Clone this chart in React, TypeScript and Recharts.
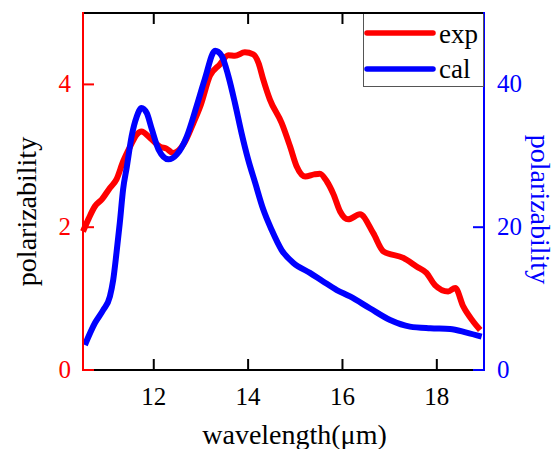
import React from 'react';
import { LineChart, Line, XAxis, YAxis } from 'recharts';

const expWavelength = [10.5, 10.62, 10.75, 10.9, 11.07, 11.21, 11.35, 11.5, 11.64, 11.74, 11.92, 12.13, 12.27, 12.41, 12.63, 12.84, 13.0, 13.19, 13.4, 13.58, 13.72, 13.93, 14.11, 14.22, 14.32, 14.46, 14.71, 14.89, 15.03, 15.21, 15.4, 15.52, 15.67, 15.81, 15.95, 16.12, 16.37, 16.65, 16.87, 17.29, 17.57, 17.78, 17.96, 18.24, 18.39, 18.56, 18.77, 18.92];
const expPolarizability = [1.94, 2.12, 2.29, 2.39, 2.55, 2.67, 2.92, 3.13, 3.3, 3.34, 3.25, 3.13, 3.1, 3.04, 3.16, 3.46, 3.72, 4.12, 4.28, 4.41, 4.4, 4.45, 4.42, 4.3, 4.07, 3.79, 3.46, 3.13, 2.85, 2.71, 2.74, 2.75, 2.64, 2.46, 2.22, 2.11, 2.18, 1.92, 1.66, 1.57, 1.45, 1.36, 1.19, 1.1, 1.15, 0.89, 0.68, 0.56];

const calWavelength = [10.54, 10.75, 10.93, 11.07, 11.14, 11.21, 11.28, 11.35, 11.43, 11.53, 11.64, 11.74, 11.85, 11.96, 12.1, 12.31, 12.49, 12.7, 12.91, 13.08, 13.3, 13.44, 13.58, 13.72, 13.86, 14.0, 14.15, 14.32, 14.5, 14.71, 14.96, 15.31, 15.59, 15.88, 16.16, 16.58, 17.01, 17.43, 17.86, 18.28, 18.63, 18.95];
const calPolarizability = [3.5, 6.55, 8.42, 10.3, 12.6, 16.4, 20.6, 25.3, 28.5, 32.7, 35.5, 36.7, 36.0, 33.7, 30.9, 29.5, 30.2, 32.7, 37.0, 40.7, 44.7, 44.0, 41.2, 37.4, 33.2, 29.5, 26.2, 22.5, 19.6, 16.8, 15.0, 13.6, 12.4, 11.2, 10.3, 8.65, 7.0, 6.08, 5.85, 5.75, 5.24, 4.68];

const xTicks = [12, 14, 16, 18];
const leftTicks = [0, 2, 4];
const rightTicks = [0, 20, 40];
const xDomain = [10.5, 19];
const leftDomain = [0, 5];
const rightDomain = [0, 50];
const seriesNames = ['exp', 'cal'];
const seriesColors = ['#ff0000', '#0000ff'];
const xTitle = 'wavelength(\u03bcm)';
const yTitle = 'polarizability';

const expData = expWavelength.map((x, i) => ({ x, v: expPolarizability[i] }));
const calData = calWavelength.map((x, i) => ({ x, v: calPolarizability[i] }));

const FONT = 'Liberation Serif';
const RED = seriesColors[0];
const BLUE = seriesColors[1];
const TL = 11;
const W = 556;
const H = 449;
const MARGIN_TOP = 13;
const LEFT_W = 83;
const RIGHT_W = 72;
const BOTTOM_H = 79;
const PL = LEFT_W;
const PR = W - RIGHT_W;
const PT = MARGIN_TOP;
const PB = H - BOTTOM_H;

const sx = (v: number) => PL + ((v - xDomain[0]) / (xDomain[1] - xDomain[0])) * (PR - PL);
const syL = (v: number) => PB - ((v - leftDomain[0]) / (leftDomain[1] - leftDomain[0])) * (PB - PT);
const syR = (v: number) => PB - ((v - rightDomain[0]) / (rightDomain[1] - rightDomain[0])) * (PB - PT);

const BottomTick = (props: any) => {
  const { x, y, payload } = props;
  return (
    <text x={x} y={y + 35} textAnchor="middle" fontSize={25} fontFamily={FONT} fill="#000">{payload.value}</text>
  );
};

const LeftTick = (props: any) => {
  const { x, y, payload } = props;
  return (
    <text x={x - 12} y={y + 8} textAnchor="end" fontSize={25} fontFamily={FONT} fill={RED}>{payload.value}</text>
  );
};

const RightTick = (props: any) => {
  const { x, y, payload } = props;
  return (
    <text x={x + 13} y={y + 8} textAnchor="start" fontSize={25} fontFamily={FONT} fill={BLUE}>{payload.value}</text>
  );
};

const LeftTitle = (props: any) => {
  const vb = props.viewBox || { x: 0, y: 13, width: 83, height: 357 };
  const cx = vb.x + 26;
  const cy = vb.y + vb.height / 2 + 20;
  return (
    <text x={cx} y={cy} transform={`rotate(-90 ${cx} ${cy})`} textAnchor="middle" dominantBaseline="central" fontSize={28} fontFamily={FONT} fill="#000">{yTitle}</text>
  );
};

const RightTitle = (props: any) => {
  const vb = props.viewBox || { x: 484, y: 13, width: 72, height: 357 };
  const cx = vb.x + 56;
  const cy = vb.y + vb.height / 2 + 18;
  return (
    <text x={cx} y={cy} transform={`rotate(90 ${cx} ${cy})`} textAnchor="middle" dominantBaseline="central" fontSize={28} fontFamily={FONT} fill={BLUE}>{yTitle}</text>
  );
};

const BottomTitle = (props: any) => {
  const vb = props.viewBox || { x: 83, y: 370, width: 401, height: 79 };
  const cx = vb.x + vb.width / 2 + 11;
  const cy = vb.y + 74;
  return (
    <text x={cx} y={cy} textAnchor="middle" fontSize={28} fontFamily={FONT} fill="#000">{xTitle}</text>
  );
};

const FrameOverlay = () => (
  <svg width={W} height={H} style={{ position: 'absolute', left: 0, top: 0, pointerEvents: 'none' }}>
    <path d={`M${PL - 1},${PT}L${PR},${PT}`} stroke="#000" strokeWidth={2} fill="none" />
    {xTicks.map((t) => (
      <g key={'x' + t}>
        <path d={`M${sx(t)},${PB}L${sx(t)},${PB - TL}`} stroke="#000" strokeWidth={2} fill="none" />
        <path d={`M${sx(t)},${PT}L${sx(t)},${PT + TL}`} stroke="#000" strokeWidth={2} fill="none" />
      </g>
    ))}
    {leftTicks.map((t) => (
      <path key={'l' + t} d={`M${PL},${syL(t)}L${PL + TL},${syL(t)}`} stroke={RED} strokeWidth={2} fill="none" />
    ))}
    {rightTicks.map((t) => (
      <path key={'r' + t} d={`M${PR},${syR(t)}L${PR - TL},${syR(t)}`} stroke={BLUE} strokeWidth={2} fill="none" />
    ))}
    <path d={`M${PL},${PT - 1}L${PL},${PB + 1}`} stroke={RED} strokeWidth={2} fill="none" />
    <path d={`M${PR},${PT - 1}L${PR},${PB + 1}`} stroke={BLUE} strokeWidth={2} fill="none" />
  </svg>
);

const LegendBox = () => (
  <div style={{ position: 'absolute', left: 363, top: 14, width: 119, height: 72, background: '#fff', borderLeft: '1px solid #555', borderRight: '1px solid #555', borderBottom: '1px solid #555' }}>
    <svg width={119} height={72} style={{ display: 'block' }}>
      {seriesNames.map((name, i) => (
        <g key={name}>
          <path d={`M3,${19 + i * 36}L69,${19 + i * 36}`} stroke={seriesColors[i]} strokeWidth={5.5} strokeLinecap="round" fill="none" />
          <text x={75} y={29 + i * 35} fontSize={27} fontFamily={FONT} fill="#000">{name}</text>
        </g>
      ))}
    </svg>
  </div>
);

export default function App() {
  return (
    <div style={{ position: 'absolute', left: 0, top: 0, width: W, height: H }}>
      <LineChart width={W} height={H} margin={{ top: MARGIN_TOP, right: 0, bottom: 0, left: 0 }}>
        <XAxis
          xAxisId="b"
          type="number"
          dataKey="x"
          orientation="bottom"
          domain={xDomain}
          ticks={xTicks}
          height={BOTTOM_H}
          tickSize={0}
          tickMargin={0}
          tickLine={false}
          axisLine={{ stroke: '#000', strokeWidth: 2 }}
          tick={<BottomTick />}
          label={{ content: <BottomTitle /> }}
        />
        <YAxis
          yAxisId="left"
          orientation="left"
          domain={leftDomain}
          ticks={leftTicks}
          width={LEFT_W}
          tickSize={0}
          tickMargin={0}
          tickLine={false}
          axisLine={{ stroke: RED, strokeWidth: 2 }}
          tick={<LeftTick />}
          label={{ content: <LeftTitle /> }}
        />
        <YAxis
          yAxisId="right"
          orientation="right"
          domain={rightDomain}
          ticks={rightTicks}
          width={RIGHT_W}
          tickSize={0}
          tickMargin={0}
          tickLine={false}
          axisLine={{ stroke: BLUE, strokeWidth: 2 }}
          tick={<RightTick />}
          label={{ content: <RightTitle /> }}
        />
        <Line
          xAxisId="b"
          yAxisId="left"
          data={expData}
          dataKey="v"
          name={seriesNames[0]}
          type="monotone"
          stroke={RED}
          strokeWidth={6}
          dot={false}
          isAnimationActive={false}
        />
        <Line
          xAxisId="b"
          yAxisId="right"
          data={calData}
          dataKey="v"
          name={seriesNames[1]}
          type="monotone"
          stroke={BLUE}
          strokeWidth={6}
          dot={false}
          isAnimationActive={false}
        />
      </LineChart>
      <FrameOverlay />
      <LegendBox />
    </div>
  );
}
